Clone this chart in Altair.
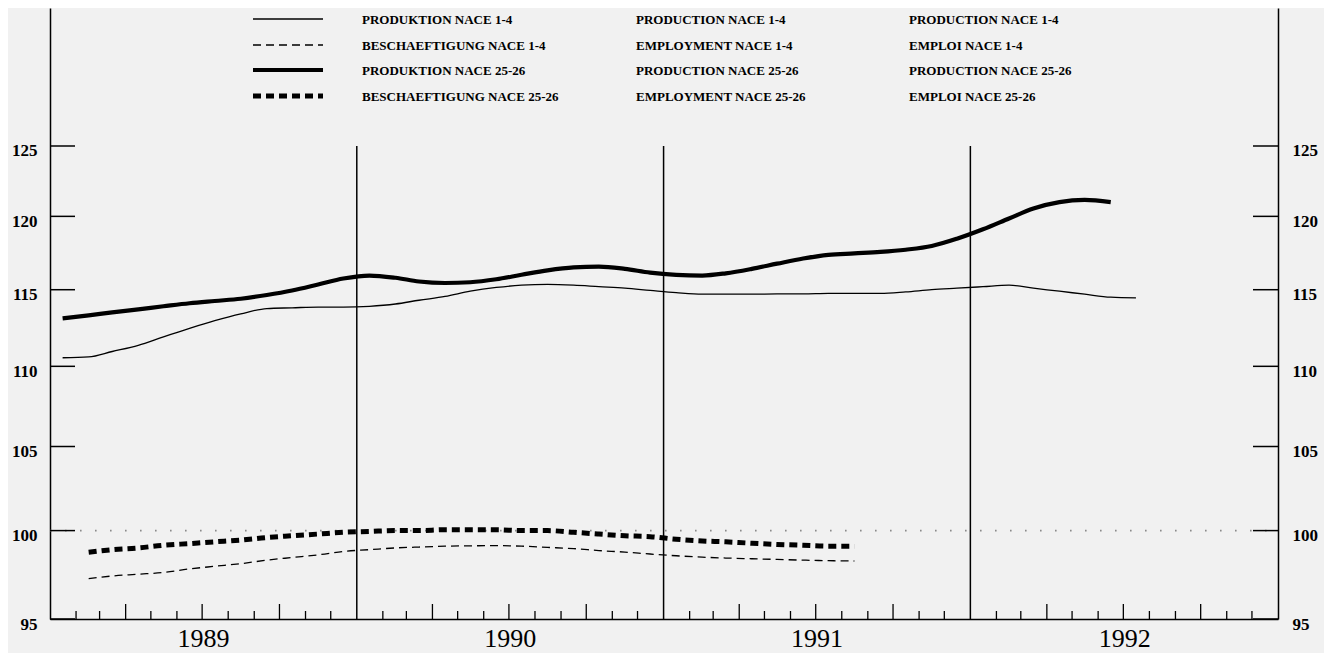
import altair as alt
import pandas as pd

# ---------------- data (index values, monthly) ----------------
# production NACE 1-4 : Jan 1989 .. Jul 1992
prod_1_4 = [110.55, 110.6, 110.95, 111.35, 111.9, 112.45, 112.95, 113.4, 113.75, 113.8, 113.85, 113.85,
            113.9, 114.05, 114.3, 114.55, 114.9, 115.15, 115.3, 115.35, 115.3, 115.2, 115.1, 114.95,
            114.8, 114.7, 114.7, 114.7, 114.72, 114.72, 114.75, 114.75, 114.75, 114.85, 115.0, 115.1,
            115.2, 115.3, 115.1, 114.9, 114.7, 114.5, 114.45]
# production NACE 25-26 : Jan 1989 .. Jun 1992
prod_25_26 = [113.1, 113.3, 113.5, 113.7, 113.9, 114.1, 114.25, 114.4, 114.65, 114.95, 115.35, 115.75,
              115.95, 115.8, 115.55, 115.45, 115.5, 115.7, 116.0, 116.3, 116.5, 116.55, 116.4, 116.15,
              116.0, 115.95, 116.1, 116.4, 116.75, 117.1, 117.35, 117.45, 117.55, 117.7, 117.95, 118.45,
              119.1, 119.85, 120.55, 121.0, 121.15, 121.0]
# employment NACE 1-4 : Feb 1989 .. Aug 1991
emp_1_4 = [97.25, 97.4, 97.5, 97.6, 97.8, 97.95, 98.1, 98.3, 98.45, 98.6, 98.8,
           98.9, 99.0, 99.05, 99.1, 99.12, 99.13, 99.1, 99.03, 98.96, 98.85, 98.76, 98.65,
           98.55, 98.47, 98.42, 98.38, 98.34, 98.3, 98.27, 98.25]
# employment NACE 25-26 : Feb 1989 .. Aug 1991
emp_25_26 = [98.75, 98.9, 99.0, 99.15, 99.25, 99.35, 99.45, 99.6, 99.7, 99.8, 99.9,
             99.95, 100.0, 100.0, 100.05, 100.05, 100.05, 100.0, 100.0, 99.9, 99.8, 99.7, 99.65,
             99.5, 99.4, 99.35, 99.27, 99.2, 99.15, 99.1, 99.1]

series_keys = ["prod14", "emp14", "prod2526", "emp2526"]
series_first_month = [0, 1, 0, 1]          # month index of first value (0 = Jan 1989)
series_values = [prod_1_4, emp_1_4, prod_25_26, emp_25_26]

legend_de = ["PRODUKTION NACE 1-4", "BESCHAEFTIGUNG NACE 1-4",
             "PRODUKTION NACE 25-26", "BESCHAEFTIGUNG NACE 25-26"]
legend_en = ["PRODUCTION NACE 1-4", "EMPLOYMENT NACE 1-4",
             "PRODUCTION NACE 25-26", "EMPLOYMENT NACE 25-26"]
legend_fr = ["PRODUCTION NACE 1-4", "EMPLOI NACE 1-4",
             "PRODUCTION NACE 25-26", "EMPLOI NACE 25-26"]

years = [1989, 1990, 1991, 1992]
y_ticks = [95, 100, 105, 110, 115, 120, 125]

# ---------------- styles ----------------
W, H = 1228, 611
styles = {
    "prod14": dict(strokeWidth=1.3),
    "emp14": dict(strokeWidth=1.3, strokeDash=[8, 5]),
    "prod2526": dict(strokeWidth=4.2),
    "emp2526": dict(strokeWidth=5, strokeDash=[8, 5]),
}
SERIF = "Liberation Serif"

xs = alt.Scale(type="time", nice=False,
               domain=[alt.DateTime(year=1989, month=1, date=1),
                       alt.DateTime(year=1993, month=1, date=1)])
ys = alt.Scale(type="log", nice=False, domain=[95, 135.42])

xax = alt.Axis(values=[alt.DateTime(year=y, month=7, date=2) for y in years], format="%Y",
               tickSize=0, labelPadding=6, labelFont=SERIF, labelFontSize=26, labelColor="black",
               labelFlush=False, labelOverlap=False, domainColor="black", domainWidth=1.5,
               grid=False, title=None)


def month_dates(first, n):
    return [pd.Timestamp(1989 + (first + i) // 12, (first + i) % 12 + 1, 16) for i in range(n)]


layers = []

# dotted reference line at 100
layers.append(
    alt.Chart(pd.DataFrame({"v": [100]})).mark_rule(color="#8a8a8a", strokeWidth=1.6, strokeDash=[1.6, 13.4])
    .encode(y=alt.Y("v:Q", scale=ys, axis=None), x=alt.value(0), x2=alt.value(W))
)

# year boundary verticals (this layer carries the bottom axis)
yb = pd.DataFrame({"d": [pd.Timestamp(y, 1, 1) for y in years[1:]], "top": [125] * 3, "bot": [95] * 3})
layers.append(
    alt.Chart(yb).mark_rule(color="black", strokeWidth=1.5)
    .encode(x=alt.X("d:T", scale=xs, axis=xax),
            y=alt.Y("top:Q", scale=ys, axis=None), y2="bot:Q")
)

# monthly ticks (inward) on bottom axis
months = pd.date_range("1989-02-01", "1992-12-01", freq="MS")
months = [m for m in months if m.month != 1]
short_m = pd.DataFrame({"d": [m for m in months if m.month not in (4, 7, 10)]})
long_m = pd.DataFrame({"d": [m for m in months if m.month in (4, 7, 10)]})
layers.append(alt.Chart(short_m).mark_rule(color="black", strokeWidth=1.3)
              .encode(x=alt.X("d:T", scale=xs, axis=xax), y=alt.value(H), y2=alt.value(H - 8)))
layers.append(alt.Chart(long_m).mark_rule(color="black", strokeWidth=1.3)
              .encode(x=alt.X("d:T", scale=xs, axis=xax), y=alt.value(H), y2=alt.value(H - 15)))

# inward y ticks, left and right (right layer carries the right axis)
yt = pd.DataFrame({"v": y_ticks})
label_common = dict(labelFont=SERIF, labelFontSize=17, labelFontWeight="bold", labelColor="black",
                    tickSize=0, labelOffset=5, labelOverlap=False, labelBaseline="middle",
                    domainColor="black", domainWidth=1.5, grid=False, title=None, format="d",
                    values=y_ticks)
layers.append(alt.Chart(yt).mark_rule(color="black", strokeWidth=1.5)
              .encode(y=alt.Y("v:Q", scale=ys, axis=None), x=alt.value(0), x2=alt.value(25)))
layers.append(alt.Chart(yt).mark_rule(color="black", strokeWidth=1.5)
              .encode(y=alt.Y("v:Q", scale=ys,
                              axis=alt.Axis(orient="right", labelPadding=14, labelAlign="left", **label_common)),
                      x=alt.value(W - 25), x2=alt.value(W)))

# data lines
for i, (key, first, vals) in enumerate(zip(series_keys, series_first_month, series_values)):
    df = pd.DataFrame({"date": month_dates(first, len(vals)), "value": vals})
    yax = alt.Axis(orient="left", labelPadding=13, labelAlign="right", **label_common) if i == 0 else None
    layers.append(
        alt.Chart(df).mark_line(color="black", interpolate="monotone", strokeCap="butt", **styles[key])
        .encode(x=alt.X("date:T", scale=xs, axis=xax), y=alt.Y("value:Q", scale=ys, axis=yax))
    )

# legend (drawn as marks)
row_y = [11, 37, 62, 88]
for i, key in enumerate(series_keys):
    one = pd.DataFrame({"de": [legend_de[i]], "en": [legend_en[i]], "fr": [legend_fr[i]]})
    layers.append(alt.Chart(one).mark_rule(color="black", strokeCap="butt", **styles[key])
                  .encode(x=alt.value(203), x2=alt.value(273), y=alt.value(row_y[i])))
    for col, xpos in (("de", 312), ("en", 586), ("fr", 859)):
        layers.append(alt.Chart(one).mark_text(font=SERIF, fontSize=13, fontWeight="bold", color="black",
                                               align="left", baseline="middle", dy=1)
                      .encode(text=f"{col}:N", x=alt.value(xpos), y=alt.value(row_y[i])))

chart = (
    alt.layer(*layers)
    .resolve_axis(y="independent")
    .properties(width=W, height=H, background="#f1f1f1",
                padding={"left": 42, "top": 0, "right": 46, "bottom": 34},
                autosize=alt.AutoSizeParams(type="none"))
    .configure_view(stroke=None)
    .configure_axis(grid=False)
)

chart.save("out.html", embed_options={"renderer": "svg", "actions": False})
